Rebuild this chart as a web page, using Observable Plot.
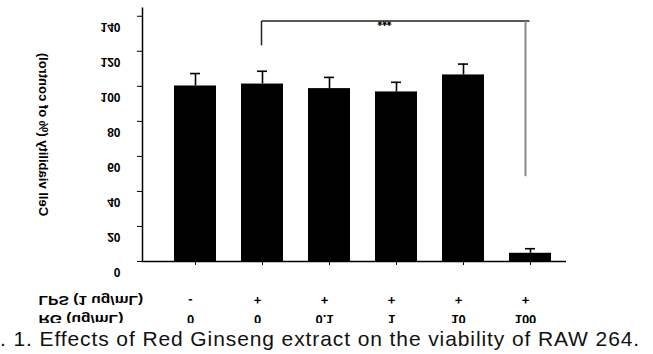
<!DOCTYPE html>
<html><head><meta charset="utf-8">
<script src="https://cdn.jsdelivr.net/npm/d3@7"></script>
<script src="https://cdn.jsdelivr.net/npm/@observablehq/plot@0.6"></script>
<style>
html,body{margin:0;padding:0;background:#fff;}
#wrap{position:relative;width:653px;height:354px;overflow:hidden;font-family:"Liberation Sans",Arial,sans-serif;}
#chart svg{display:block;overflow:hidden;}
#caption{position:absolute;left:0;top:323px;width:653px;height:31px;line-height:31px;background:#fff;white-space:nowrap;overflow:hidden;font-size:21px;letter-spacing:0.9px;color:#111;}
</style></head><body>
<div id="wrap"><div id="chart"></div><div id="caption">. 1. Effects of Red Ginseng extract on the viability of RAW 264.</div></div>
<script>
const categories = ["LPS- RG0", "LPS+ RG0", "LPS+ RG0.1", "LPS+ RG1", "LPS+ RG10", "LPS+ RG100"];
const lpsRow = ["-", "+", "+", "+", "+", "+"];
const rgRow = ["0", "0", "0.1", "1", "10", "100"];
const viability = [100.2, 101.3, 98.7, 96.8, 106.5, 4.7];
const errorTop = [107.3, 108.6, 105.1, 102.3, 112.7, 7.3];
const yTicks = [0, 20, 40, 60, 80, 100, 120, 140];
const yMax = 145;
const yLabel = "Cell viability (% of control)";
const lpsLabel = "LPS (1 ug/mL)";
const rgLabel = "RG (ug/mL)";
const bracket = {from: "LPS+ RG0", to: "LPS+ RG100", top: 137.3, leftBottom: 123.4, rightBottom: 48.7, mark: "***", markAt: "LPS+ RG1"};

const rows = categories.map((c, i) => ({cat: c, lps: lpsRow[i], rg: rgRow[i], v: viability[i], e: errorTop[i]}));
const yAxisLine = [{x: categories[0], y1: 0, y2: yMax}];

const font = "Liberation Sans, Arial, sans-serif";
const chart = Plot.plot({
  width: 653, height: 323,
  marginLeft: 142, marginRight: 87, marginTop: 7, marginBottom: 62,
  style: {fontFamily: font, fontSize: "12px", color: "#000", background: "#fff"},
  x: {type: "band", domain: categories, range: [148.8, 577], padding: 0.375, axis: null},
  y: {domain: [0, yMax], axis: null},
  marks: [
    Plot.barY(rows, {x: "cat", y: "v", fill: "#000"}),
    Plot.ruleX(rows, {x: "cat", y1: "v", y2: "e", stroke: "#000", strokeWidth: 1.6}),
    Plot.tickY(rows, {x: "cat", y: "e", stroke: "#000", strokeWidth: 1.6, insetLeft: 16, insetRight: 16}),
    // y axis line at the left edge of the frame
    Plot.link(yAxisLine, {x1: "x", x2: "x", y1: "y1", y2: "y2", dx: -53, stroke: "#000", strokeWidth: 1.5}),
    Plot.ruleY([0], {stroke: "#000", strokeWidth: 1.5}),
    Plot.axisY({ticks: yTicks, tickSize: 5, tickFormat: () => "", label: null}),
    Plot.axisY({ticks: yTicks, tickSize: 0, tickPadding: 22, fontSize: 12, fontWeight: "bold", dy: 10.5, label: null, tickFormat: d => String(d)}),
    Plot.axisX({tickSize: 4, tickFormat: () => "", label: null}),
    Plot.text([yLabel], {frameAnchor: "left", textAnchor: "middle", rotate: -90, dx: -99, fontSize: 13, fontWeight: "bold"}),
    Plot.text(rows, {x: "cat", text: "lps", frameAnchor: "bottom", lineAnchor: "middle", dy: 39, dx: -5, fontSize: 13, fontWeight: "bold"}),
    Plot.text(rows, {x: "cat", text: "rg", frameAnchor: "bottom", lineAnchor: "middle", dy: 58.5, dx: -5, fontSize: 13, fontWeight: "bold"}),
    Plot.text([lpsLabel], {frameAnchor: "bottom-left", textAnchor: "start", lineAnchor: "middle", dx: -104, dy: 39, fontSize: 13, fontWeight: "bold"}),
    Plot.text([rgLabel], {frameAnchor: "bottom-left", textAnchor: "start", lineAnchor: "middle", dx: -104, dy: 58.5, fontSize: 13, fontWeight: "bold"}),
    Plot.link([bracket], {x1: "from", x2: "to", y1: "top", y2: "top", stroke: "#222", strokeWidth: 1.5, dx: -1}),
    Plot.link([bracket], {x1: "from", x2: "from", y1: "top", y2: "leftBottom", stroke: "#222", strokeWidth: 1.5, dx: -1}),
    Plot.link([bracket], {x1: "to", x2: "to", y1: "top", y2: "rightBottom", stroke: "#888", strokeWidth: 2, dx: -5}),
    Plot.text([bracket], {x: "markAt", y: "top", text: "mark", dx: -12, dy: 0, fontSize: 12, fontWeight: "bold"})
  ]
});
document.getElementById("chart").appendChild(chart);

// the reference shows every label of the figure mirrored top-to-bottom;
// the two row titles are also drawn wider, as in the reference
const wide = new Set([lpsLabel, rgLabel]);
chart.querySelectorAll("text").forEach(t => {
  if (!t.textContent) return;
  const b = t.getBBox();
  const sx = wide.has(t.textContent) ? 1.2 : 1;
  const ox = wide.has(t.textContent) ? b.x : b.x + b.width / 2;
  const cy = b.y + b.height / 2;
  const prev = t.getAttribute("transform") || "";
  t.setAttribute("transform", `${prev} translate(${ox},${cy}) scale(${sx},-1) translate(${-ox},${-cy})`);
});
</script>
</body></html>
